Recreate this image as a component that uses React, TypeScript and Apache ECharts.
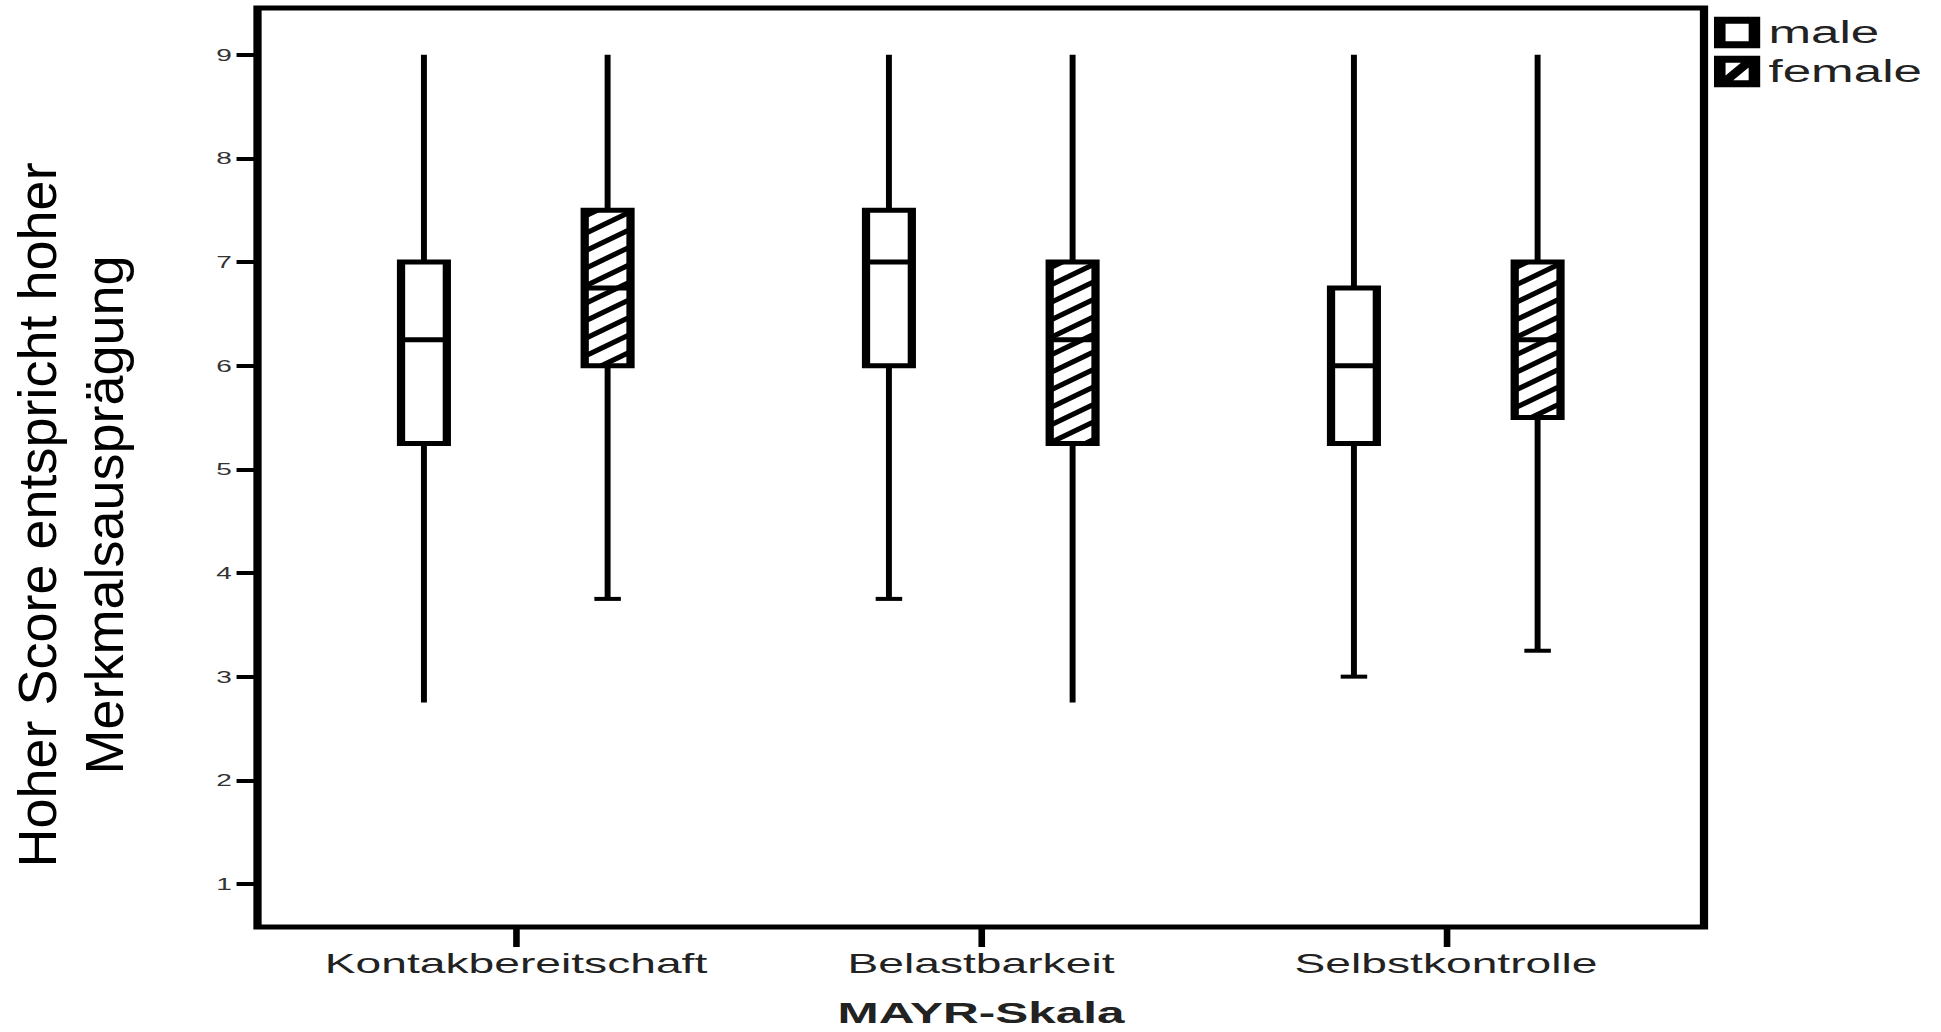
import React, { useEffect, useRef } from 'react';
import * as echarts from 'echarts';

// ---- data ----
const categories = ['Kontakbereitschaft', 'Belastbarkeit', 'Selbstkontrolle'];
const seriesNames = ['male', 'female'];
const maleLow = [2.75, 3.75, 3.0];
const maleQ1 = [5.25, 6.0, 5.25];
const maleMedian = [6.25, 7.0, 6.0];
const maleQ3 = [7.0, 7.5, 6.75];
const maleHigh = [9, 9, 9];
const maleLowCap = [0, 1, 1];
const femaleLow = [3.75, 2.75, 3.25];
const femaleQ1 = [6.0, 5.25, 5.5];
const femaleMedian = [6.75, 6.25, 6.25];
const femaleQ3 = [7.5, 7.0, 7.0];
const femaleHigh = [9, 9, 9];
const femaleLowCap = [1, 0, 1];
const yTickValues = [1, 2, 3, 4, 5, 6, 7, 8, 9];
const xAxisTitle = 'MAYR-Skala';
const yAxisTitleLines = ['Hoher Score entspricht hoher', 'Merkmalsausprägung'];

// ---- layout (the original picture is stretched horizontally) ----
const S = 1.65;
const W = 1941 / S;
const FONT = '"Liberation Sans", Arial, sans-serif';

const malePath = 'path://M0,0H24V27H0Z M6,6V21H18V6Z';
const femalePath = 'path://M0,0H24V27H0Z M6,6V21H18V6Z M6,17L14,6L18,6L18,10L10,21L6,21Z';

function buildData(low: number[], q1: number[], med: number[], q3: number[], high: number[], cap: number[]) {
  return categories.map((_, i) => [i, low[i], q1[i], med[i], q3[i], high[i], cap[i]]);
}

function makeRenderItem(offsetFrac: number, hatched: boolean) {
  return (params: any, api: any) => {
    const idx = api.value(0);
    const band = api.size([1, 0])[0];
    const cx = api.coord([idx, 0])[0] + offsetFrac * band;
    const yLow = api.coord([idx, api.value(1)])[1];
    const yQ1 = api.coord([idx, api.value(2)])[1];
    const yMed = api.coord([idx, api.value(3)])[1];
    const yQ3 = api.coord([idx, api.value(4)])[1];
    const yHigh = api.coord([idx, api.value(5)])[1];
    const hasCap = api.value(6) === 1;
    const boxW = band * 0.0985;
    const capW = band * 0.057;
    const xl = cx - boxW / 2;
    const xr = cx + boxW / 2;
    const children: any[] = [];
    const black = '#000';
    children.push({ type: 'line', shape: { x1: cx, y1: yQ3, x2: cx, y2: yHigh }, style: { stroke: black, lineWidth: 3.6 } });
    children.push({ type: 'line', shape: { x1: cx, y1: yQ1, x2: cx, y2: yLow }, style: { stroke: black, lineWidth: 3.6 } });
    if (hasCap) {
      children.push({ type: 'line', shape: { x1: cx - capW / 2, y1: yLow, x2: cx + capW / 2, y2: yLow }, style: { stroke: black, lineWidth: 4 } });
    }
    children.push({ type: 'rect', shape: { x: xl, y: yQ3, width: boxW, height: yQ1 - yQ3 }, style: { fill: '#fff', stroke: 'none' } });
    if (hatched) {
      const m = 0.79;
      const period = 17.5;
      const w = boxW;
      for (let c = yQ3 + 6; c < yQ1 + m * w + period; c += period) {
        const a = Math.max(0, (c - yQ1) / m);
        const b = Math.min(w, (c - yQ3) / m);
        if (b > a) {
          children.push({
            type: 'line',
            shape: { x1: xl + a, y1: c - m * a, x2: xl + b, y2: c - m * b },
            style: { stroke: black, lineWidth: 4.5, lineCap: 'butt' },
          });
        }
      }
    }
    children.push({ type: 'line', shape: { x1: xl, y1: yMed, x2: xr, y2: yMed }, style: { stroke: black, lineWidth: 5 } });
    children.push({ type: 'rect', shape: { x: xl, y: yQ3, width: boxW, height: yQ1 - yQ3 }, style: { fill: 'none', stroke: black, lineWidth: 5 } });
    return { type: 'group', children };
  };
}

export default function App() {
  const ref = useRef<HTMLDivElement>(null);
  useEffect(() => {
    if (!ref.current) return;
    const chart = echarts.init(ref.current, undefined, { renderer: 'svg' });
    const yMin = 0.585;
    const yMax = 9.45;
    const gridTop = 8;
    const gridHeight = 919;
    chart.setOption({
      animation: false,
      backgroundColor: '#fff',
      grid: [
        { left: 257.5 / S, top: gridTop, width: (1704 - 257.5) / S, height: gridHeight, show: true, borderColor: '#000', borderWidth: 5, backgroundColor: 'transparent', outerBoundsMode: 'none', containLabel: false },
        { left: 283.5 / S, top: gridTop, width: (1678.5 - 283.5) / S, height: gridHeight, outerBoundsMode: 'none', containLabel: false },
      ],
      xAxis: [
        { type: 'value', gridIndex: 0, show: false, min: 0, max: 1 },
        {
          type: 'category',
          gridIndex: 1,
          data: categories,
          axisLine: { show: false },
          axisTick: { show: true, interval: 0, alignWithLabel: true, length: 20, lineStyle: { color: '#000', width: 4 } },
          axisLabel: { interval: 0, fontSize: 28, fontFamily: FONT, color: '#222', margin: 22 },
          name: xAxisTitle,
          nameLocation: 'middle',
          nameGap: 71,
          nameTextStyle: { fontSize: 30, fontWeight: 'bold', fontFamily: FONT, color: '#222', lineHeight: 30 },
        },
      ],
      yAxis: [
        {
          type: 'value',
          gridIndex: 0,
          min: yMin,
          max: yMax,
          axisLine: { show: false },
          splitLine: { show: false },
          axisTick: { show: true, customValues: yTickValues, length: 12.7, lineStyle: { color: '#000', width: 4 } },
          axisLabel: { customValues: yTickValues, fontSize: 17, fontFamily: FONT, color: '#333', margin: 15.5 },
        },
        { type: 'value', gridIndex: 1, min: yMin, max: yMax, show: false },
      ],
      legend: {
        orient: 'vertical',
        left: 1714 / S,
        top: 14,
        padding: 0,
        itemWidth: 28,
        itemHeight: 33,
        itemGap: 2,
        selectedMode: false,
        itemStyle: { color: '#000', borderWidth: 0 },
        textStyle: { fontSize: 31, fontFamily: FONT, color: '#222', lineHeight: 33, padding: [4, 0, 0, 0] },
        data: [
          { name: seriesNames[0], icon: malePath },
          { name: seriesNames[1], icon: femalePath },
        ],
      },
      graphic: [
        {
          type: 'text',
          x: 70.5 / S,
          y: 515,
          rotation: Math.PI / 2,
          scaleY: 1 / S,
          style: {
            text: yAxisTitleLines.join('\n'),
            fontSize: 54,
            fontFamily: FONT,
            fill: '#000',
            align: 'center',
            verticalAlign: 'middle',
            textAlign: 'center',
            textVerticalAlign: 'middle',
            lineHeight: 68,
          },
        },
      ],
      series: [
        {
          name: seriesNames[0],
          type: 'custom',
          xAxisIndex: 1,
          yAxisIndex: 1,
          itemStyle: { color: '#000' },
          encode: { x: 0, y: [1, 2, 3, 4, 5] },
          renderItem: makeRenderItem(-0.198, false),
          data: buildData(maleLow, maleQ1, maleMedian, maleQ3, maleHigh, maleLowCap),
        },
        {
          name: seriesNames[1],
          type: 'custom',
          xAxisIndex: 1,
          yAxisIndex: 1,
          itemStyle: { color: '#000' },
          encode: { x: 0, y: [1, 2, 3, 4, 5] },
          renderItem: makeRenderItem(0.197, true),
          data: buildData(femaleLow, femaleQ1, femaleMedian, femaleQ3, femaleHigh, femaleLowCap),
        },
      ],
    });
    return () => chart.dispose();
  }, []);
  return (
    <div
      ref={ref}
      style={{
        position: 'fixed',
        left: 0,
        top: 0,
        width: W + 'px',
        height: '1032px',
        transform: `scaleX(${S})`,
        transformOrigin: '0 0',
        background: '#fff',
      }}
    />
  );
}
